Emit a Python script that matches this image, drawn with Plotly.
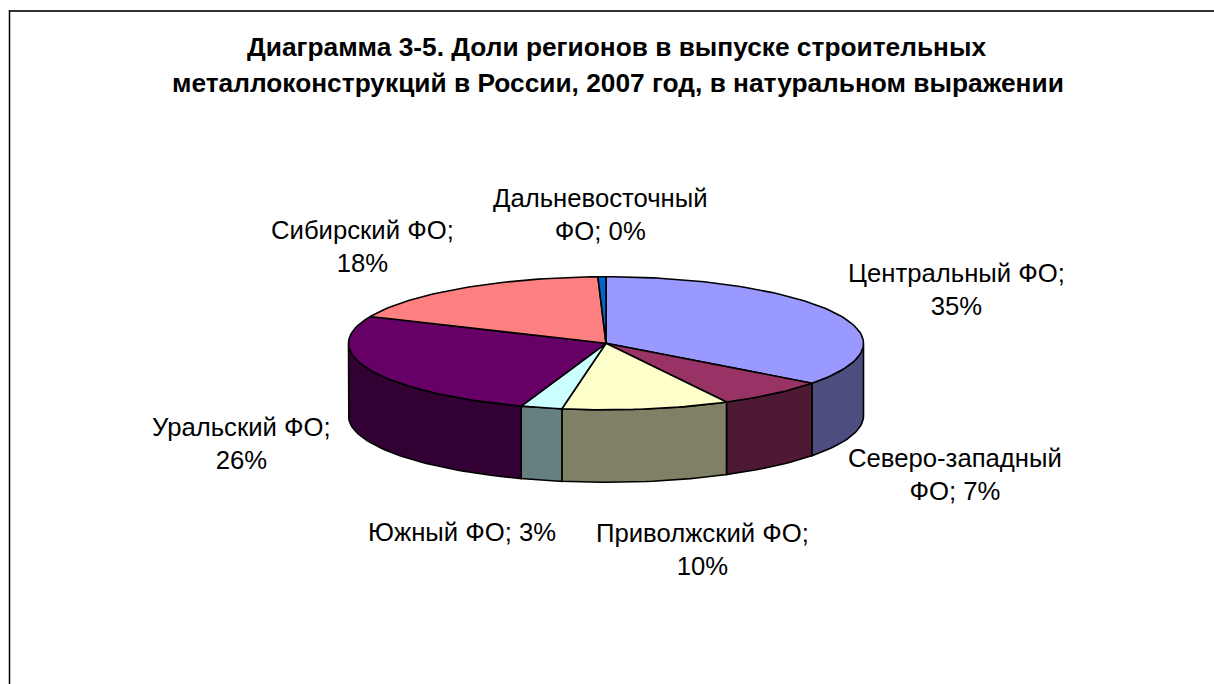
import math
import plotly.graph_objects as go

regions = ["Центральный ФО", "Северо-западный ФО", "Приволжский ФО", "Южный ФО",
           "Уральский ФО", "Сибирский ФО", "Дальневосточный ФО"]
shares = [35.25, 7.0, 10.49, 2.6, 26.26, 17.9, 0.5]
percent_labels = ["35%", "7%", "10%", "3%", "26%", "18%", "0%"]
top_colors = ["#9999FF", "#993366", "#FFFFCC", "#CCFFFF", "#660066", "#FF8080", "#0066CC"]
side_colors = ["#4D4D80", "#4D1933", "#808066", "#668080", "#330033", "#804040", "#003366"]

label_text = [
    "Центральный ФО;<br>35%",
    "Северо-западный<br>ФО; 7%",
    "Приволжский ФО;<br>10%",
    "Южный ФО; 3%",
    "Уральский ФО;<br>26%",
    "Сибирский ФО;<br>18%",
    "Дальневосточный<br>ФО; 0%",
]
label_x = [956, 954.5, 702, 461.5, 241, 362.5, 600]
label_y = [289, 474.5, 549.5, 532, 443.5, 246, 214]

title_lines = ["Диаграмма 3-5. Доли регионов в выпуске строительных",
               "металлоконструкций в России, 2007 год, в натуральном выражении"]
title_x = [616, 618]
title_y = [47, 83]

W, H = 1214, 684
CX, CY, RX, RY, DEPTH = 606, 343.3, 257.5, 66.5, 72.5


def pt(deg, drop=0):
    a = math.radians(deg)
    return CX + RX * math.sin(a), CY - RY * math.cos(a) + drop


def arc(a0, a1, drop=0):
    n = max(2, int(abs(a1 - a0) / 1.5) + 2)
    return [pt(a0 + (a1 - a0) * i / (n - 1), drop) for i in range(n)]


fig = go.Figure()
total = sum(shares)
angles = [0]
for s in shares:
    angles.append(angles[-1] + s / total * 360)

# side walls: only the front half of the rim (90..270 degrees) is visible
for i in range(len(shares)):
    lo, hi = max(angles[i], 90), min(angles[i + 1], 270)
    if lo >= hi:
        continue
    pts = arc(lo, hi) + arc(hi, lo, DEPTH)
    pts.append(pts[0])
    fig.add_trace(go.Scatter(
        x=[p[0] for p in pts], y=[p[1] for p in pts], mode="lines", fill="toself",
        fillcolor=side_colors[i], line=dict(color="black", width=1.6),
        name=regions[i], showlegend=False, hoverinfo="skip"))

# top wedges
for i in range(len(shares)):
    pts = [(CX, CY)] + arc(angles[i], angles[i + 1]) + [(CX, CY)]
    fig.add_trace(go.Scatter(
        x=[p[0] for p in pts], y=[p[1] for p in pts], mode="lines", fill="toself",
        fillcolor=top_colors[i], line=dict(color="black", width=1.6),
        name=regions[i], showlegend=False,
        hovertemplate=regions[i] + ": " + percent_labels[i] + "<extra></extra>"))

annotations = [dict(x=x, y=y, xref="x", yref="y", text=t, showarrow=False,
                    font=dict(family="Liberation Sans", size=25.7, color="black"),
                    align="center", xanchor="center", yanchor="middle")
               for t, x, y in zip(label_text, label_x, label_y)]
for t, x, y in zip(title_lines, title_x, title_y):
    annotations.append(dict(x=x, y=y, xref="x", yref="y", text="<b>" + t + "</b>",
                            showarrow=False, align="center", xanchor="center", yanchor="middle",
                            font=dict(family="Liberation Sans", size=26.3, color="black")))

fig.update_layout(
    width=W, height=H, margin=dict(l=0, r=0, t=0, b=0),
    paper_bgcolor="white", plot_bgcolor="white", showlegend=False,
    xaxis=dict(range=[0, W], visible=False, fixedrange=True),
    yaxis=dict(range=[H, 0], visible=False, fixedrange=True),
    annotations=annotations,
    shapes=[dict(type="line", xref="x", yref="y", x0=9.5, x1=W, y0=11, y1=11,
                 line=dict(color="#333333", width=2)),
            dict(type="line", xref="x", yref="y", x0=9.5, x1=9.5, y0=10, y1=H,
                 line=dict(color="black", width=1.5))],
)
fig.write_html("out.html", config={"displayModeBar": False},
               post_script="document.body.style.margin='0';")
